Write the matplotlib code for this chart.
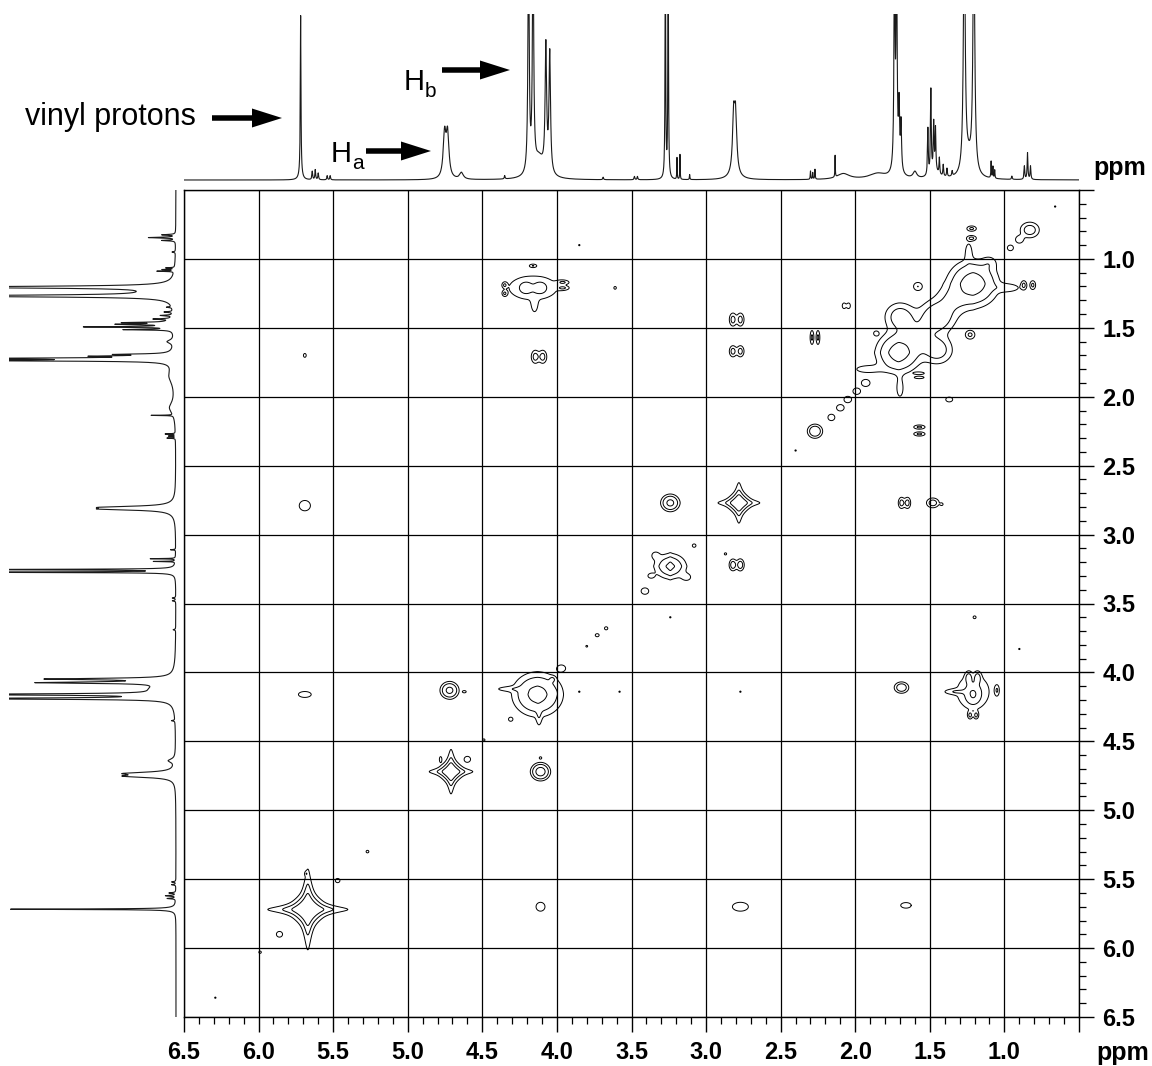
import numpy as np
import matplotlib
matplotlib.use("Agg")
import matplotlib.pyplot as plt
from matplotlib.ticker import FixedLocator, FixedFormatter, MultipleLocator
from matplotlib.patches import FancyArrow

plt.rcParams['font.family'] = ['Liberation Sans', 'DejaVu Sans']

# ---------------- 1D proton spectrum (shared by both projections) ----------------
# line centre (ppm), height (fraction of the plotted range), half width (ppm)
line_ppm = [5.718, 5.718, 5.64, 5.62, 5.60, 5.54, 5.52,
            4.753, 4.733, 4.64,
            4.19, 4.16, 4.074, 4.048, 4.12, 4.35,
            3.69, 3.48, 3.46,
            3.273, 3.254, 3.195, 3.175, 3.11,
            2.815, 2.802, 2.81,
            2.30, 2.285, 2.27, 2.135, 2.08, 1.85,
            1.737, 1.723, 1.706, 1.693, 1.72, 1.60,
            1.513, 1.493, 1.474, 1.462, 1.436, 1.41, 1.385, 1.35, 1.47,
            1.269, 1.205, 1.24,
            1.089, 1.077, 1.065, 0.95,
            0.866, 0.845, 0.825]
line_height = [0.95, 0.04, 0.05, 0.06, 0.04, 0.025, 0.025,
               0.26, 0.26, 0.04,
               1.4, 1.4, 0.75, 0.72, 0.12, 0.02,
               0.015, 0.02, 0.02,
               1.4, 1.4, 0.13, 0.15, 0.03,
               0.33, 0.33, 0.03,
               0.05, 0.04, 0.06, 0.13, 0.035, 0.035,
               1.3, 1.3, 0.35, 0.28, 0.08, 0.04,
               0.28, 0.50, 0.28, 0.25, 0.10, 0.07, 0.05, 0.03, 0.05,
               1.5, 1.5, 0.10,
               0.10, 0.07, 0.05, 0.02,
               0.08, 0.16, 0.08]
line_hwhm = [0.0025, 0.012, 0.003, 0.003, 0.003, 0.003, 0.003,
             0.011, 0.011, 0.015,
             0.005, 0.005, 0.006, 0.006, 0.04, 0.003,
             0.003, 0.003, 0.003,
             0.0025, 0.0025, 0.0015, 0.0015, 0.002,
             0.009, 0.009, 0.04,
             0.002, 0.002, 0.002, 0.0015, 0.05, 0.07,
             0.004, 0.004, 0.004, 0.004, 0.02, 0.015,
             0.003, 0.003, 0.003, 0.003, 0.003, 0.003, 0.003, 0.003, 0.03,
             0.007, 0.007, 0.03,
             0.002, 0.002, 0.002, 0.003,
             0.003, 0.003, 0.003]

# ---------------- 2D COSY peaks ----------------
# (F2 ppm, F1 ppm, amplitude, F2 half width, F1 half width, shape: L=Lorentzian, G=Gaussian)
diagonal_peaks = [
    # vinyl
    (5.67, 5.72, 150, 0.022, 0.024, 'L'), (5.67, 5.72, 5, 0.05, 0.05, 'G'),
    (5.47, 5.51, 2.0, 0.015, 0.015, 'G'), (5.68, 5.46, 1.6, 0.008, 0.012, 'G'),
    # Ha
    (4.71, 4.72, 60, 0.019, 0.021, 'L'), (4.71, 4.72, 3, 0.04, 0.04, 'G'),
    (4.60, 4.63, 2.0, 0.020, 0.020, 'G'), (4.78, 4.63, 1.6, 0.008, 0.020, 'G'),
    # Hb
    (4.13, 4.16, 8, 0.100, 0.095, 'G'), (4.13, 4.16, 6, 0.012, 0.012, 'L'),
    (4.32, 4.12, 1.6, 0.080, 0.015, 'G'), (4.12, 4.32, 1.6, 0.015, 0.060, 'G'),
    (4.03, 4.05, 2.0, 0.015, 0.015, 'G'), (4.02, 4.15, 2.0, 0.012, 0.015, 'G'),
    (3.97, 3.97, 1.5, 0.035, 0.030, 'G'),
    # 3.3
    (3.24, 3.23, 5, 0.070, 0.060, 'G'), (3.24, 3.23, 12, 0.012, 0.014, 'L'),
    (3.34, 3.15, 1.5, 0.025, 0.025, 'G'), (3.13, 3.31, 1.5, 0.030, 0.025, 'G'),
    (3.37, 3.30, 1.4, 0.025, 0.020, 'G'),
    # 2.85
    (2.78, 2.77, 50, 0.020, 0.021, 'L'), (2.78, 2.77, 3, 0.040, 0.040, 'G'),
    # aliphatic region
    (1.21, 1.18, 9, 0.100, 0.100, 'G'), (1.21, 1.18, 8, 0.020, 0.020, 'L'),
    (1.45, 1.42, 5, 0.080, 0.080, 'G'),
    (1.71, 1.68, 8, 0.090, 0.090, 'G'), (1.71, 1.68, 8, 0.020, 0.020, 'L'),
    (1.35, 1.30, 2.5, 0.080, 0.080, 'G'), (1.58, 1.55, 2.5, 0.100, 0.100, 'G'),
    (1.92, 1.80, 1.5, 0.090, 0.030, 'G'), (1.70, 1.94, 1.5, 0.025, 0.070, 'G'),
    (1.24, 0.95, 1.8, 0.020, 0.060, 'G'), (0.98, 1.21, 2.0, 0.070, 0.025, 'G'),
    (1.10, 1.03, 1.5, 0.040, 0.040, 'G'),
    (0.83, 0.79, 4, 0.045, 0.040, 'G'), (0.90, 0.86, 2, 0.025, 0.025, 'G'),
    (0.96, 0.92, 2, 0.020, 0.020, 'G'),
    (1.93, 1.90, 2.5, 0.025, 0.022, 'G'), (1.99, 1.96, 2.5, 0.022, 0.020, 'G'),
    (2.05, 2.02, 2.5, 0.022, 0.020, 'G'), (2.10, 2.08, 2.5, 0.022, 0.020, 'G'),
    (2.16, 2.15, 2.5, 0.020, 0.020, 'G'), (2.27, 2.25, 6, 0.032, 0.032, 'G'),
    # small diagonal responses
    (3.08, 3.08, 2.0, 0.012, 0.012, 'G'), (3.41, 3.41, 2.5, 0.022, 0.020, 'G'),
    (3.67, 3.68, 1.8, 0.012, 0.012, 'G'), (3.73, 3.73, 1.8, 0.014, 0.012, 'G'),
    (3.80, 3.81, 1.5, 0.008, 0.008, 'G'), (4.49, 4.49, 1.5, 0.010, 0.010, 'G'),
    (4.31, 4.34, 1.8, 0.015, 0.015, 'G'), (5.27, 5.30, 1.5, 0.012, 0.012, 'G'),
    (5.86, 5.90, 2.0, 0.020, 0.020, 'G'), (5.99, 6.03, 1.6, 0.010, 0.010, 'G'),
]

cross_peaks = [
    # Hb / 1.25
    (4.16, 1.21, 2.2, 0.150, 0.080, 'G'),
    (4.21, 1.21, 3, 0.030, 0.030, 'G'), (4.11, 1.21, 3, 0.030, 0.030, 'G'),
    (4.15, 1.34, 1.5, 0.020, 0.050, 'G'),
    (4.35, 1.19, 2.5, 0.012, 0.015, 'G'), (4.35, 1.25, 2.5, 0.012, 0.015, 'G'),
    (3.96, 1.17, 2.5, 0.030, 0.012, 'G'), (3.96, 1.21, 2.5, 0.030, 0.012, 'G'),
    (4.16, 1.05, 2.5, 0.020, 0.010, 'G'), (3.61, 1.21, 1.6, 0.010, 0.012, 'G'),
    (5.69, 1.70, 1.8, 0.010, 0.015, 'G'),
    (4.145, 1.71, 3.5, 0.020, 0.035, 'G'), (4.095, 1.71, 3.5, 0.020, 0.035, 'G'),
    (5.69, 2.79, 2.2, 0.035, 0.035, 'G'),
    (2.82, 1.44, 3.5, 0.018, 0.035, 'G'), (2.77, 1.44, 3.5, 0.018, 0.035, 'G'),
    (2.82, 1.67, 3.5, 0.018, 0.030, 'G'), (2.77, 1.67, 3.5, 0.018, 0.030, 'G'),
    (3.24, 2.77, 8, 0.037, 0.037, 'G'),
    (1.69, 2.77, 3.5, 0.016, 0.030, 'G'), (1.65, 2.77, 3.5, 0.016, 0.030, 'G'),
    (1.48, 2.77, 4, 0.030, 0.025, 'G'), (1.42, 2.78, 1.5, 0.010, 0.010, 'G'),
    (2.82, 3.22, 4, 0.018, 0.030, 'G'), (2.77, 3.22, 4, 0.018, 0.030, 'G'),
    (2.87, 3.14, 1.5, 0.010, 0.010, 'G'),
    (4.72, 4.13, 8, 0.037, 0.037, 'G'), (4.62, 4.14, 1.5, 0.015, 0.010, 'G'),
    (5.69, 4.16, 2.2, 0.040, 0.020, 'G'),
    (4.11, 4.72, 10, 0.037, 0.037, 'G'), (4.11, 4.62, 1.5, 0.010, 0.010, 'G'),
    (4.11, 5.70, 2.2, 0.028, 0.030, 'G'),
    # 1.25 / Hb
    (1.21, 4.14, 2.2, 0.100, 0.110, 'G'),
    (1.21, 4.16, 5, 0.035, 0.050, 'G'),
    (1.24, 4.04, 3.5, 0.016, 0.030, 'G'), (1.18, 4.04, 3.5, 0.016, 0.030, 'G'),
    (1.33, 4.14, 2, 0.060, 0.015, 'G'),
    (1.23, 4.31, 3, 0.012, 0.020, 'G'), (1.19, 4.31, 3, 0.012, 0.020, 'G'),
    (1.05, 4.13, 2.5, 0.012, 0.030, 'G'),
    (1.69, 4.11, 5, 0.032, 0.027, 'G'), (1.20, 3.60, 1.6, 0.012, 0.012, 'G'),
    (2.77, 5.70, 2.2, 0.050, 0.030, 'G'), (1.66, 5.69, 2.0, 0.035, 0.020, 'G'),
    # within the aliphatic region
    (0.87, 1.19, 3, 0.015, 0.025, 'G'), (0.81, 1.19, 3, 0.015, 0.025, 'G'),
    (1.22, 0.78, 3, 0.025, 0.015, 'G'), (1.22, 0.85, 3, 0.025, 0.015, 'G'),
    (1.58, 1.20, 2.5, 0.025, 0.025, 'G'),
    (2.075, 1.34, 2, 0.012, 0.020, 'G'), (2.045, 1.34, 2, 0.012, 0.020, 'G'),
    (2.29, 1.57, 3, 0.010, 0.040, 'G'), (2.25, 1.57, 3, 0.010, 0.040, 'G'),
    (1.86, 1.54, 2, 0.015, 0.015, 'G'), (1.23, 1.55, 3, 0.025, 0.025, 'G'),
    (1.57, 1.83, 2, 0.030, 0.008, 'G'), (1.57, 1.86, 2, 0.030, 0.008, 'G'),
    (1.37, 2.02, 2.5, 0.020, 0.015, 'G'),
    (1.57, 2.22, 3, 0.030, 0.012, 'G'), (1.57, 2.27, 3, 0.030, 0.012, 'G'),
    (1.70, 1.42, 4, 0.070, 0.070, 'G'), (1.45, 1.66, 4, 0.070, 0.070, 'G'),
]

# isolated single-point responses
noise_dots = [(3.85, 0.90), (6.29, 6.36), (2.40, 2.39), (3.85, 4.14), (3.58, 4.14),
              (3.24, 3.60), (2.77, 4.14), (0.90, 3.83), (0.66, 0.62)]

contour_levels = [1.0, 2.5, 6.25]

major_ticks = [6.5, 6.0, 5.5, 5.0, 4.5, 4.0, 3.5, 3.0, 2.5, 2.0, 1.5, 1.0, 0.5]
x_tick_labels = ['6.5', '6.0', '5.5', '5.0', '4.5', '4.0', '3.5', '3.0', '2.5',
                 '2.0', '1.5', '1.0', '']
y_tick_labels = ['6.5', '6.0', '5.5', '5.0', '4.5', '4.0', '3.5', '3.0', '2.5',
                 '2.0', '1.5', '1.0', '']

# ---------------- computed curves ----------------
ppm = np.linspace(0.5, 6.5, 12001)
spectrum = np.zeros_like(ppm)
for c, h, w in zip(line_ppm, line_height, line_hwhm):
    spectrum += h / (1.0 + ((ppm - c) / w) ** 2)

axis_pts = np.linspace(0.5, 6.5, 2001)
field = np.zeros((axis_pts.size, axis_pts.size))
step = axis_pts[1] - axis_pts[0]


def profile(centre, width, shape, idx):
    d = (axis_pts[idx] - centre) / width
    if shape == 'L':
        return 1.0 / (1.0 + d ** 2)
    return np.exp(-np.log(2.0) * d ** 2)


def window(centre, reach):
    lo = max(0, int((centre - reach - 0.5) / step))
    hi = min(axis_pts.size, int((centre + reach - 0.5) / step) + 2)
    return np.arange(lo, hi)


all_peaks = diagonal_peaks + cross_peaks + [(x, y, 1.5, 0.006, 0.006, 'G') for x, y in noise_dots]
for x0, y0, a, w2, w1, s in all_peaks:
    ix = window(x0, 0.8 if s == 'L' else 6 * w2)
    iy = window(y0, 0.8 if s == 'L' else 6 * w1)
    field[np.ix_(iy, ix)] += a * np.outer(profile(y0, w1, s, iy), profile(x0, w2, s, ix))

# ---------------- figure ----------------
W, H = 1152, 1066
fig = plt.figure(figsize=(W / 100, H / 100), dpi=100)


def box(left, top, right, bottom):
    return [left / W, 1 - bottom / H, (right - left) / W, (bottom - top) / H]


ax = fig.add_axes(box(184, 190, 1079, 1017))
ax.contour(axis_pts, axis_pts, field, levels=contour_levels,
           colors='black', linewidths=0.7, zorder=3)
ax.set_xlim(6.5, 0.5)
ax.set_ylim(6.5, 0.5)
ax.xaxis.set_major_locator(FixedLocator(major_ticks))
ax.xaxis.set_major_formatter(FixedFormatter(x_tick_labels))
ax.yaxis.set_major_locator(FixedLocator(major_ticks))
ax.yaxis.set_major_formatter(FixedFormatter(y_tick_labels))
ax.xaxis.set_minor_locator(MultipleLocator(0.1))
ax.yaxis.set_minor_locator(MultipleLocator(0.1))
ax.yaxis.tick_right()
ax.grid(which='major', color='black', linewidth=0.9, zorder=1)
ax.tick_params(which='major', length=11, width=1.0, direction='out', color='black',
               labelsize=17, pad=6)
ax.tick_params(which='minor', length=5, width=0.9, direction='out', color='black')
for lab in ax.get_xticklabels() + ax.get_yticklabels():
    lab.set_fontweight('bold')
for sp in ax.spines.values():
    sp.set_linewidth(1.0)

# top projection
axt = fig.add_axes(box(184, 14, 1079, 181))
axt.plot(ppm, spectrum, color='#1a1a1a', linewidth=0.8)
axt.set_xlim(6.5, 0.5)
axt.set_ylim(-0.006, 1.0)
axt.axis('off')

# left projection
axl = fig.add_axes(box(9, 190, 177, 1017))
axl.plot(spectrum, ppm, color='#1a1a1a', linewidth=0.8)
axl.set_ylim(6.5, 0.5)
axl.set_xlim(1.0, -0.006)
axl.axis('off')

# annotations in pixel space
ov = fig.add_axes([0, 0, 1, 1])
ov.set_xlim(0, W)
ov.set_ylim(H, 0)
ov.axis('off')
ov.patch.set_alpha(0)

ov.text(1093, 175, 'ppm', fontsize=18, fontweight='bold', ha='left', va='baseline')
ov.text(1096, 1060, 'ppm', fontsize=18, fontweight='bold', ha='left', va='baseline')

ov.text(25, 125, 'vinyl protons', fontsize=22, ha='left', va='baseline')
ov.text(331, 162, 'H', fontsize=21, ha='left', va='baseline')
ov.text(352, 169, 'a', fontsize=15, ha='left', va='baseline')
ov.text(404, 90, 'H', fontsize=21, ha='left', va='baseline')
ov.text(425, 97, 'b', fontsize=15, ha='left', va='baseline')

arrow_style = dict(width=5.5, head_width=19, head_length=30, length_includes_head=True,
                   color='black', linewidth=0)
ov.add_patch(FancyArrow(212, 118, 70, 0, **arrow_style))
ov.add_patch(FancyArrow(366, 151, 65, 0, **arrow_style))
ov.add_patch(FancyArrow(442, 70, 68, 0, **arrow_style))

fig.savefig('out.png', dpi=100, facecolor='white')
